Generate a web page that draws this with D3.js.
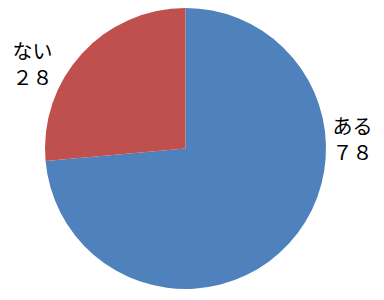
<!DOCTYPE html>
<html>
<head>
<meta charset="utf-8">
<script src="https://cdn.jsdelivr.net/npm/d3@7"></script>
<style>
  body { margin: 0; background: #fff; }
  svg { display: block; }
</style>
</head>
<body>
<script>
// answers and counts
var labels = ['ある', 'ない'];
var counts = [78, 28];
var countText = ['７８', '２８'];
var colors = ['#4F81BD', '#C0504D'];

var w = 384;
var h = 300;
var cx = 185.5, cy = 148.5, r = 140.5;

var svg = d3.select('body')
            .append('svg')
            .attr('width', w)
            .attr('height', h);

var pie = d3.pie().sort(null).value(function(d) { return d; });
var arc = d3.arc().innerRadius(0).outerRadius(r);

var g = svg.append('g').attr('transform', 'translate(' + cx + ',' + cy + ')');

g.selectAll('path')
 .data(pie(counts))
 .enter()
 .append('path')
 .attr('d', arc)
 .attr('fill', function(d, i) { return colors[i]; });

// label spots outside the pie
var labelPos = [[352.5, 127], [32.5, 52]];

var lbl = svg.selectAll('text.lbl')
   .data(labels)
   .enter()
   .append('text')
   .attr('class', 'lbl')
   .attr('x', function(d, i) { return labelPos[i][0]; })
   .attr('y', function(d, i) { return labelPos[i][1]; })
   .attr('text-anchor', 'middle')
   .style('font-family', '"Noto Sans CJK JP", sans-serif')
   .style('font-size', '20px')
   .attr('fill', '#000');

lbl.append('tspan')
   .attr('x', function(d, i) { return labelPos[i][0]; })
   .attr('dy', '0.35em')
   .text(function(d) { return d; });
lbl.append('tspan')
   .attr('x', function(d, i) { return labelPos[i][0]; })
   .attr('dy', 26)
   .text(function(d, i) { return countText[i]; });
</script>
</body>
</html>
